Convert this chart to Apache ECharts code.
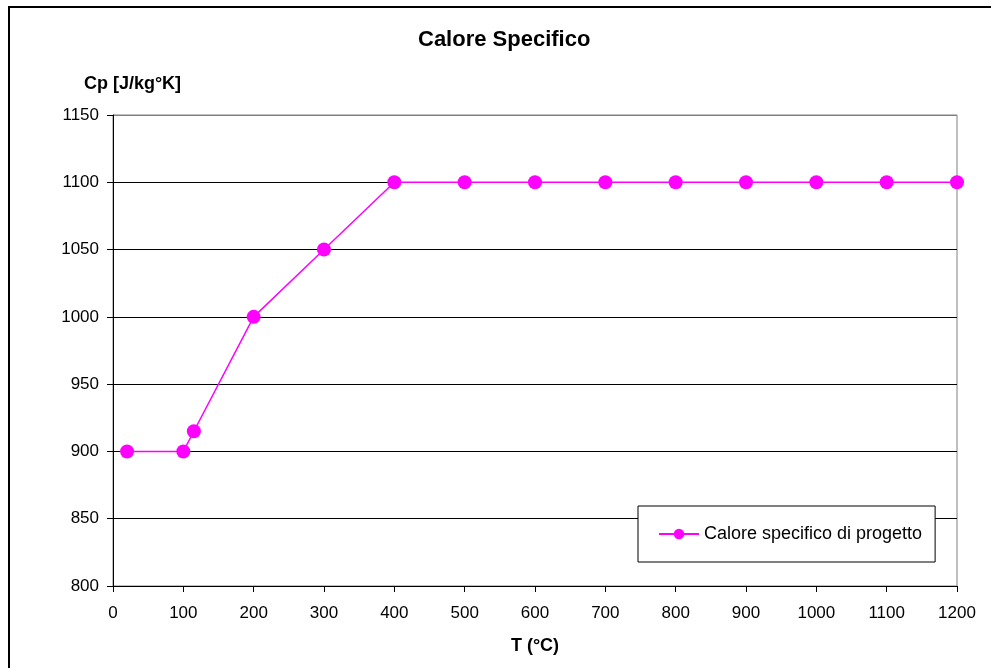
<!DOCTYPE html>
<html>
<head>
<meta charset="utf-8">
<script src="https://cdn.jsdelivr.net/npm/echarts@6/dist/echarts.min.js"></script>
<style>
html,body{margin:0;padding:0;background:#fff;}
#chart{width:991px;height:668px;}
</style>
</head>
<body>
<div id="chart"></div>
<script>
var chartTitle = 'Calore Specifico';
var seriesName = 'Calore specifico di progetto';
var xName = 'T (°C)';
var yName = 'Cp [J/kg°K]';
var temperatures = [20, 100, 115, 200, 300, 400, 500, 600, 700, 800, 900, 1000, 1100, 1200];
var cpValues = [900, 900, 915, 1000, 1050, 1100, 1100, 1100, 1100, 1100, 1100, 1100, 1100, 1100];
var xMin = 0, xMax = 1200, xStep = 100;
var yMin = 800, yMax = 1150, yStep = 50;

var points = temperatures.map(function (t, i) { return [t, cpValues[i]]; });
var font = '"Liberation Sans", Arial, sans-serif';
var plain = function (v) { return String(v); };

var chart = echarts.init(document.getElementById('chart'));
chart.setOption({
  backgroundColor: '#fff',
  animation: false,
  textStyle: { fontFamily: font, color: '#000' },
  title: {
    text: chartTitle,
    left: 418, top: 29, padding: 0,
    textStyle: { fontFamily: font, fontSize: 22, fontWeight: 'bold', color: '#000' }
  },
  graphic: [{
    type: 'rect',
    shape: { x: 9, y: 7, width: 2000, height: 2000 },
    style: { fill: 'none', stroke: '#000', lineWidth: 2 },
    silent: true, z: 100
  }],
  legend: {
    left: 638, top: 506,
    padding: [19, 13, 19, 20],
    backgroundColor: '#fff',
    borderColor: '#000', borderWidth: 1,
    itemWidth: 40, itemHeight: 13, itemGap: 5,
    textStyle: { fontFamily: font, fontSize: 18, color: '#000' },
    data: [seriesName]
  },
  grid: {
    left: 113, right: 34, top: 115, bottom: 82,
    show: true, borderColor: '#808080', borderWidth: 1, backgroundColor: '#fff'
  },
  xAxis: {
    type: 'value', min: xMin, max: xMax, interval: xStep,
    name: xName, nameLocation: 'middle', nameGap: 51,
    nameTextStyle: { fontFamily: font, fontSize: 18, fontWeight: 'bold', color: '#000' },
    axisLine: { show: true, onZero: false, lineStyle: { color: '#000', width: 1 } },
    axisTick: { show: true, length: 6, lineStyle: { color: '#000' } },
    axisLabel: { fontFamily: font, fontSize: 17, color: '#000', margin: 19, formatter: plain },
    splitLine: { show: false }
  },
  yAxis: {
    type: 'value', min: yMin, max: yMax, interval: yStep,
    name: yName, nameLocation: 'end', nameGap: 22,
    nameTextStyle: { fontFamily: font, fontSize: 18, fontWeight: 'bold', color: '#000', padding: [0, 0, 0, 39] },
    axisLine: { show: true, lineStyle: { color: '#000', width: 1 } },
    axisTick: { show: true, length: 6, lineStyle: { color: '#000' } },
    axisLabel: { fontFamily: font, fontSize: 17, color: '#000', margin: 14, formatter: plain },
    splitLine: { show: true, lineStyle: { color: ['#000', '#000', '#000', '#000', '#000', '#000', '#000', '#808080'], width: 1 } }
  },
  series: [{
    name: seriesName,
    type: 'line',
    data: points,
    symbol: 'circle', symbolSize: 14,
    itemStyle: { color: '#ff00ff' },
    lineStyle: { color: '#ff00ff', width: 1.5 },
    clip: false
  }]
});
</script>
</body>
</html>
